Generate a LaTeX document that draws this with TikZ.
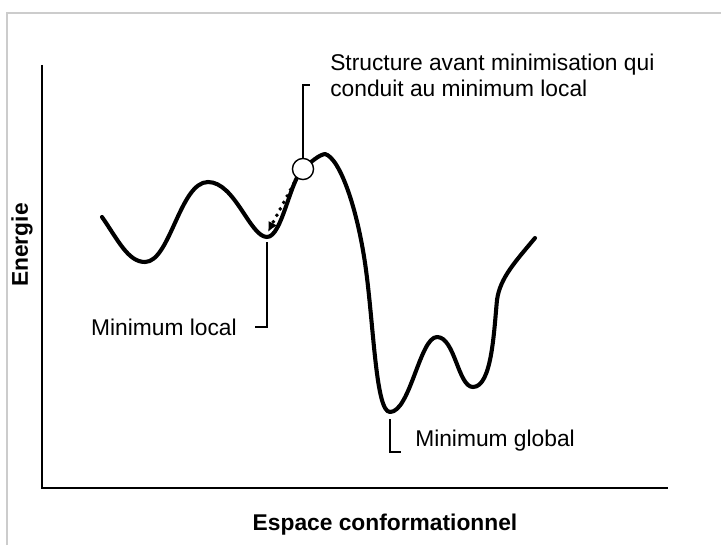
\documentclass[tikz,border=0pt]{standalone}
\usepackage{fontspec}
\setmainfont{Liberation Sans}
\usepackage{tikz}
\usetikzlibrary{calc}
\usetikzlibrary{arrows.meta}
\usetikzlibrary{positioning}
\tikzset{>=latex}
\tikzstyle{lbl} = [draw=none, inner sep = 0, font=\fontsize{16.2}{18.5}\selectfont]
\tikzstyle{ttl} = [draw=none, inner sep = 0, font=\fontsize{16.2}{18.5}\selectfont\bfseries]
\tikzstyle{lead} = [-, line width = 0.9pt]

\begin{document}
\begin{tikzpicture}[x=0.025cm, y=-0.025cm]
\useasboundingbox (0,0) rectangle (721,545);
\draw [black!20, line width = 0.8pt] (7,545) -- (7,13) -- (721,13);
% axes
\coordinate (top) at (42,65);
\coordinate (org) at (42,488);
\coordinate (end) at (668,488);
\draw [line width = 1.8pt] (top) -- (org) -- (end);
\node [ttl, rotate = 90] (E) at (22,245) {Energie};
\node [ttl] (X) at (385,525) {Espace conformationnel};
% energy curve
\coordinate (lmin) at (267,237);
\coordinate (gmin) at (390,412);
\draw [line width = 2.9pt, line cap = round, line join = round]
  (102,217) .. controls (118,240) and (128,262) .. (145,262)
  .. controls (170,262) and (180,182) .. (208,182)
  .. controls (235,182) and (250,237) .. (lmin)
  .. controls (282,237) and (290,180) .. (303,169)
  .. controls (312,161) and (319,155) .. (325,154)
  .. controls (340,158) and (358,210) .. (366,270)
  .. controls (374,330) and (376,412) .. (gmin)
  .. controls (410,412) and (420,337) .. (437,337)
  .. controls (455,337) and (458,387) .. (473,387)
  .. controls (492,387) and (494,330) .. (497,300)
  .. controls (500,278) and (515,262) .. (535,238);
\node [draw, fill=white, circle, line width = 1pt, minimum size = 15pt, inner sep = 0] (S) at (303,169) {};
\draw [line width = 2.8pt, line cap = round, dash pattern = on 0pt off 5.2pt, -{Latex[length=7pt, width=7pt]}]
  ($(S)+(-9,14)$) -- (268,232);
% labels
\node [lbl, align=left, anchor=west] (ST) at (330,75) {Structure avant minimisation qui\\conduit au minimum local};
\node [lbl, anchor=east] (LM) at (237,327) {Minimum local};
\node [lbl, anchor=west] (GM) at (415,441) {Minimum global};
\draw [lead] (S.north) -- (303,85) -- (310,85);
\draw [lead] ($(lmin)+(0,5)$) -- (267,327) -- (255,327);
\draw [lead] ($(gmin)+(0,7)$) -- (390,452) -- (401,452);
\end{tikzpicture}
\end{document}
